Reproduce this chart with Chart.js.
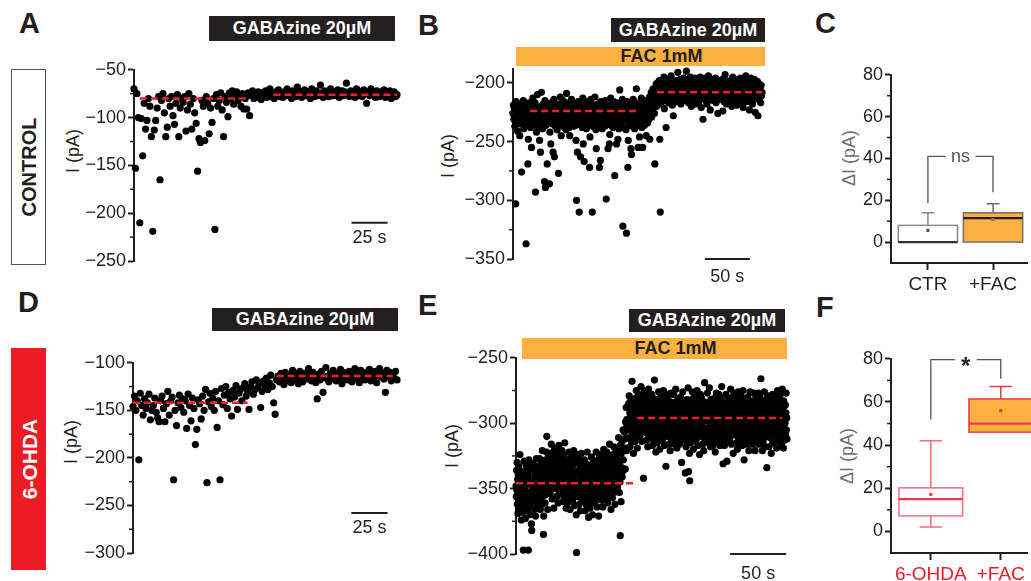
<!DOCTYPE html>
<html>
<head>
<meta charset="utf-8">
<script src="https://cdn.jsdelivr.net/npm/chart.js@4.4.1/dist/chart.umd.min.js"></script>
<style>
  body { margin: 0; width: 1031px; height: 581px; overflow: hidden; background: #fff; position: relative;
         font-family: "Liberation Sans", Arial, sans-serif; color: #231f20; }
  canvas { position: absolute; }
  .let { position: absolute; font-size: 29px; font-weight: bold; line-height: 29px; }
  .drug { position: absolute; background: #231f20; color: #fff; font-weight: bold; font-size: 18px; text-align: center; white-space: nowrap; }
  .fac { position: absolute; background: #fbb040; color: #231f20; font-weight: bold; font-size: 18px; text-align: center; white-space: nowrap; box-sizing: border-box; padding-left: 42px; }
  .grp { position: absolute; box-sizing: border-box; }
  .rot { position: absolute; transform: translate(-50%, -50%) rotate(-90deg); white-space: nowrap; line-height: 1; }
</style>
</head>
<body>

<div class="let" style="left:19px;top:9px">A</div>
<div class="let" style="left:418px;top:11px">B</div>
<div class="let" style="left:815px;top:9px">C</div>
<div class="let" style="left:18px;top:288px">D</div>
<div class="let" style="left:418px;top:291px">E</div>
<div class="let" style="left:816px;top:293px">F</div>

<div class="drug" style="left:209px;top:16px;width:186px;height:25px;line-height:25px">GABAzine 20µM</div>
<div class="drug" style="left:611px;top:18px;width:154px;height:24px;line-height:24px">GABAzine 20µM</div>
<div class="fac" style="left:516px;top:47px;width:249px;height:19px;line-height:19px">FAC 1mM</div>
<div class="drug" style="left:212px;top:308px;width:186px;height:23px;line-height:23px">GABAzine 20µM</div>
<div class="drug" style="left:629px;top:309px;width:156px;height:23px;line-height:23px">GABAzine 20µM</div>
<div class="fac" style="left:522px;top:338px;width:265px;height:21px;line-height:21px">FAC 1mM</div>

<div class="grp" style="left:11px;top:69px;width:35px;height:196px;border:1px solid #555">
  <div class="rot" style="left:50%;top:50%;font-size:20px;font-weight:bold">CONTROL</div>
</div>
<div class="grp" style="left:11px;top:348px;width:35px;height:222px;background:#ed1c24">
  <div class="rot" style="left:50%;top:50%;font-size:21px;font-weight:bold;color:#fff">6-OHDA</div>
</div>

<div class="rot" style="left:73px;top:151px;font-size:18px">I (pA)</div>
<div class="rot" style="left:448px;top:156px;font-size:18px">I (pA)</div>
<div class="rot" style="left:71px;top:442px;font-size:18px">I (pA)</div>
<div class="rot" style="left:452px;top:446px;font-size:18px">I (pA)</div>
<div class="rot" style="left:849px;top:158px;font-size:18px;color:#6d6e71">ΔI (pA)</div>
<div class="rot" style="left:847px;top:456px;font-size:18px;color:#6d6e71">ΔI (pA)</div>

<canvas id="chartA" width="333" height="234" style="left:74px;top:57px"></canvas>
<canvas id="chartB" width="319" height="233" style="left:453px;top:56px"></canvas>
<canvas id="chartC" width="185" height="237" style="left:846px;top:62px"></canvas>
<canvas id="chartD" width="334" height="233" style="left:73px;top:350px"></canvas>
<canvas id="chartE" width="341" height="239" style="left:456px;top:345px"></canvas>
<canvas id="chartF" width="185" height="243" style="left:846px;top:346px"></canvas>

<script>
// sampling interval (s) of each recording
const aStep = 1;
const bStep = 0.5;
const dStep = 1;
const eStep = 0.25;

// A: control, GABAzine only (pA)
const aValues = [
  -70, -153, -75, -100, -210, -101, -140, -85, -112, -103,
  -80, -88, -120, -219, -113, -103, -90, -78, -165, -82,
  -75, -95, -120, -110, -80, -88, -78, -98, -107, -85,
  -76, -120, -90, -80, -84, -78, -114, -92, -75, -86,
  -112, -80, -95, -106, -156, -122, -126, -82, -88, -124,
  -78, -85, -117, -90, -105, -80, -217, -76, -88, -82,
  -74, -92, -120, -78, -84, -99, -74, -80, -72, -86,
  -76, -73, -82, -78, -88, -75, -91, -80, -91, -74,
  -98, -77, -72, -80, -75, -79, -73, -76, -81, -74,
  -77, -72, -79, -75, -70, -78, -74, -80, -73, -76,
  -71, -78, -75, -79, -73, -76, -70, -77, -74, -80,
  -72, -75, -78, -68, -76, -73, -79, -74, -71, -77,
  -75, -73, -80, -70, -76, -78, -72, -74, -77, -66,
  -74, -79, -72, -76, -73, -78, -70, -75, -77, -73,
  -76, -71, -79, -74, -72, -77, -73, -64, -75, -78,
  -72, -76, -74, -79, -70, -75, -77, -73, -78, -71,
  -75, -85, -73, -77, -70, -76, -74, -79, -72, -75,
  -78, -73, -76, -71, -79, -74, -77, -72, -80, -75,
  -73, -78, -76
];
const aMeanX = [[4, 79], [96.5, 182]];
const aMeanY = [-80, -76];

// B: control, GABAzine + FAC (pA)
const bValues = [
  -226, -219, -231, -222, -237, -228, -303, -216, -233, -225, -241, -220, -229, -235, -223, -245, -218, -230, -224, -276,
  -221, -234, -227, -215, -239, -224, -230, -218, -232, -337, -226, -220, -236, -269, -248, -228, -217, -233, -223, -238,
  -225, -255, -219, -231, -213, -227, -236, -222, -229, -217, -293, -234, -242, -224, -210, -230, -221, -238, -226, -249,
  -228, -259, -220, -208, -233, -225, -239, -218, -230, -223, -284, -215, -289, -236, -226, -221, -269, -232, -219, -227,
  -224, -286, -242, -231, -252, -217, -228, -235, -221, -259, -230, -214, -263, -226, -237, -219, -232, -225, -240, -222,
  -229, -277, -218, -234, -224, -212, -231, -245, -220, -236, -226, -215, -233, -222, -238, -227, -219, -230, -240, -209,
  -225, -235, -217, -229, -222, -238, -245, -220, -232, -226, -214, -234, -223, -229, -218, -237, -225, -231, -221, -236,
  -249, -300, -224, -259, -230, -216, -235, -310, -221, -228, -263, -233, -219, -226, -238, -213, -252, -229, -267, -222,
  -234, -220, -227, -239, -216, -230, -224, -236, -218, -232, -272, -246, -225, -214, -231, -222, -310, -237, -226, -219,
  -229, -235, -212, -226, -240, -256, -221, -233, -218, -228, -236, -223, -272, -230, -266, -216, -234, -225, -239, -220,
  -227, -218, -233, -224, -237, -215, -230, -299, -222, -235, -226, -256, -219, -231, -252, -244, -228, -213, -236, -223,
  -231, -220, -238, -225, -216, -234, -279, -228, -222, -236, -252, -217, -230, -248, -224, -239, -219, -206, -233, -226,
  -221, -235, -227, -214, -322, -230, -238, -223, -218, -232, -226, -240, -328, -216, -229, -272, -249, -224, -236, -220,
  -233, -225, -256, -261, -219, -237, -228, -214, -231, -222, -239, -226, -217, -234, -205, -229, -223, -236, -255, -218,
  -230, -246, -221, -235, -226, -213, -238, -224, -255, -232, -219, -228, -236, -222, -215, -233, -245, -227, -220, -234,
  -224, -217, -231, -212, -248, -226, -219, -208, -229, -215, -222, -205, -218, -211, -226, -269, -207, -214, -201, -220,
  -209, -200, -214, -204, -218, -198, -248, -310, -206, -212, -202, -216, -207, -199, -211, -195, -222, -205, -213, -201,
  -238, -208, -215, -203, -210, -197, -217, -206, -201, -213, -208, -194, -211, -204, -219, -200, -228, -209, -203, -214,
  -205, -212, -198, -209, -216, -202, -191, -207, -214, -200, -210, -197, -205, -218, -203, -211, -199, -208, -213, -196,
  -209, -202, -215, -206, -198, -190, -212, -204, -210, -199, -217, -207, -201, -213, -195, -208, -220, -203, -211, -205,
  -199, -214, -206, -201, -210, -196, -218, -204, -209, -200, -213, -197, -207, -216, -202, -210, -195, -208, -221, -203,
  -211, -205, -231, -199, -212, -204, -208, -196, -215, -201, -209, -218, -203, -207, -194, -213, -200, -210, -223, -206,
  -202, -211, -197, -208, -215, -203, -209, -199, -213, -206, -196, -217, -204, -210, -201, -226, -207, -214, -198, -212,
  -205, -210, -200, -214, -207, -197, -224, -209, -202, -216, -206, -193, -211, -203, -218, -208, -199, -213, -205, -210,
  -201, -215, -206, -198, -212, -204, -220, -209, -195, -211, -203, -216, -207, -200, -213, -197, -209, -219, -204, -210,
  -208, -199, -214, -203, -210, -196, -217, -206, -201, -212, -205, -221, -198, -209, -214, -202, -207, -194, -211, -216,
  -204, -210, -199, -215, -207, -223, -202, -211, -196, -213, -206, -200, -218, -208, -203, -214, -197, -210, -225, -205,
  -212, -203, -209, -199, -228, -207, -214, -201, -210, -205, -217, -202, -211, -208
];
const bMeanX = [[19, 141], [160, 276.5]];
const bMeanY = [-224, -208];

// D: 6-OHDA, GABAzine only (pA)
const dValues = [
  -146, -135, -150, -140, -202, -132, -145, -155, -138, -148,
  -142, -133, -160, -150, -145, -137, -152, -158, -162, -140,
  -135, -148, -162, -143, -130, -155, -140, -136, -223, -150,
  -166, -142, -134, -147, -138, -152, -140, -169, -133, -145,
  -161, -137, -148, -186, -170, -139, -143, -159, -135, -150,
  -128, -226, -141, -132, -146, -137, -150, -130, -168, -140,
  -223, -127, -144, -134, -125, -148, -131, -138, -156, -129,
  -136, -124, -149, -132, -128, -140, -126, -122, -135, -130,
  -149, -125, -120, -133, -128, -118, -126, -122, -147, -130,
  -119, -124, -116, -128, -121, -113, -125, -142, -154, -118,
  -114, -120, -111, -117, -123, -110, -116, -119, -113, -121,
  -108, -115, -118, -112, -122, -109, -116, -120, -111, -114,
  -117, -106, -113, -119, -110, -115, -121, -138, -112, -118,
  -109, -131, -116, -105, -114, -120, -111, -117, -108, -113,
  -119, -112, -115, -107, -122, -110, -116, -113, -118, -109,
  -114, -120, -111, -106, -117, -113, -121, -108, -115, -112,
  -118, -110, -114, -107, -119, -112, -116, -109, -121, -113,
  -106, -115, -111, -117, -131, -108, -114, -110, -119, -112,
  -116, -109, -118
];
const dMeanX = [[0, 79], [99, 179]];
const dMeanY = [-142, -114];

// E: 6-OHDA, GABAzine + FAC (pA)
const eValues = [
  -348, -356, -336, -351, -330, -362, -343, -369, -339, -349, -333, -354, -365, -345, -324, -359, -341, -352, -337, -374,
  -354, -339, -362, -347, -368, -342, -397, -351, -358, -329, -364, -345, -340, -373, -348, -336, -356, -332, -360, -343,
  -342, -353, -366, -339, -397, -360, -328, -356, -335, -370, -346, -362, -344, -334, -354, -377, -382, -351, -331, -358,
  -360, -343, -331, -355, -349, -335, -366, -339, -353, -346, -371, -336, -357, -327, -362, -345, -340, -364, -348, -334,
  -345, -353, -333, -348, -327, -359, -340, -366, -336, -346, -330, -351, -362, -342, -321, -356, -338, -349, -385, -371,
  -347, -332, -355, -340, -361, -335, -328, -344, -351, -322, -310, -338, -333, -366, -341, -329, -349, -325, -353, -336,
  -330, -341, -354, -327, -337, -348, -316, -344, -323, -358, -334, -350, -332, -322, -342, -365, -328, -339, -319, -346,
  -350, -333, -321, -345, -339, -325, -356, -329, -343, -336, -361, -326, -347, -317, -352, -335, -330, -354, -338, -324,
  -339, -347, -327, -342, -321, -353, -334, -360, -330, -340, -324, -345, -356, -336, -315, -350, -332, -343, -328, -365,
  -347, -332, -355, -340, -361, -335, -328, -344, -351, -322, -357, -338, -333, -366, -341, -329, -349, -325, -353, -336,
  -335, -346, -359, -332, -342, -353, -321, -349, -328, -363, -339, -355, -337, -327, -347, -370, -399, -405, -324, -351,
  -356, -339, -327, -351, -345, -331, -362, -335, -349, -342, -367, -332, -353, -323, -358, -341, -336, -360, -344, -330,
  -346, -354, -334, -349, -328, -360, -341, -367, -337, -347, -331, -352, -363, -343, -322, -357, -339, -350, -335, -372,
  -351, -336, -359, -344, -365, -339, -332, -348, -355, -326, -361, -342, -337, -370, -345, -333, -353, -329, -357, -340,
  -336, -347, -360, -333, -343, -354, -322, -350, -329, -364, -340, -356, -338, -328, -348, -371, -334, -345, -325, -352,
  -353, -336, -324, -348, -342, -328, -359, -332, -346, -339, -364, -329, -350, -320, -355, -338, -333, -357, -341, -327,
  -340, -348, -328, -343, -322, -354, -335, -361, -331, -341, -325, -346, -357, -337, -316, -351, -333, -344, -329, -366,
  -343, -328, -351, -336, -357, -331, -324, -340, -347, -318, -353, -334, -329, -362, -337, -325, -345, -321, -349, -332,
  -325, -336, -349, -322, -332, -343, -311, -339, -318, -353, -329, -345, -386, -317, -337, -360, -323, -334, -314, -341,
  -337, -319, -305, -328, -321, -306, -335, -307, -320, -312, -335, -299, -319, -288, -321, -303, -297, -320, -302, -287,
  -297, -305, -285, -300, -279, -311, -292, -318, -288, -298, -282, -303, -314, -294, -268, -308, -290, -301, -286, -323,
  -300, -285, -308, -293, -314, -288, -281, -297, -304, -275, -310, -291, -286, -319, -294, -282, -302, -278, -306, -289,
  -286, -297, -310, -283, -293, -304, -272, -300, -279, -314, -290, -306, -288, -278, -298, -342, -284, -295, -275, -302,
  -307, -290, -278, -302, -296, -282, -313, -286, -300, -293, -318, -283, -304, -274, -309, -292, -287, -311, -295, -281,
  -296, -304, -284, -299, -278, -310, -291, -317, -287, -297, -281, -302, -313, -293, -267, -307, -289, -300, -285, -322,
  -301, -286, -309, -294, -315, -289, -282, -298, -305, -276, -311, -292, -287, -320, -295, -283, -303, -279, -307, -290,
  -289, -300, -313, -286, -296, -307, -275, -303, -282, -317, -293, -309, -291, -281, -301, -333, -287, -298, -278, -305,
  -310, -293, -281, -305, -299, -285, -316, -289, -303, -296, -321, -286, -307, -277, -312, -295, -290, -314, -298, -284,
  -291, -312, -295, -278, -306, -299, -286, -316, -293, -304, -274, -309, -289, -301, -319, -283, -298, -287, -313, -294,
  -299, -282, -306, -316, -289, -295, -309, -280, -302, -286, -297, -330, -284, -291, -304, -276, -313, -294, -287, -307,
  -297, -305, -285, -300, -338, -311, -292, -318, -288, -298, -282, -303, -314, -294, -273, -308, -337, -301, -286, -323,
  -344, -286, -309, -294, -315, -289, -282, -298, -305, -276, -311, -292, -287, -320, -295, -283, -303, -279, -307, -290,
  -289, -300, -313, -286, -296, -307, -275, -303, -282, -317, -293, -309, -291, -281, -301, -324, -287, -298, -278, -305,
  -310, -293, -281, -305, -299, -285, -316, -289, -303, -296, -321, -286, -307, -269, -312, -295, -290, -314, -298, -284,
  -290, -311, -294, -277, -305, -298, -285, -315, -292, -303, -273, -308, -288, -300, -318, -282, -297, -286, -312, -293,
  -300, -283, -307, -317, -290, -296, -310, -281, -303, -287, -298, -322, -285, -292, -305, -277, -314, -295, -288, -308,
  -296, -304, -284, -299, -278, -310, -291, -317, -287, -297, -281, -302, -313, -293, -272, -307, -289, -300, -285, -331,
  -303, -288, -311, -296, -317, -291, -284, -300, -307, -278, -313, -294, -289, -329, -297, -285, -305, -281, -309, -292,
  -288, -299, -312, -285, -295, -306, -274, -302, -281, -316, -292, -308, -290, -280, -300, -323, -286, -297, -277, -304,
  -309, -292, -280, -304, -298, -284, -315, -288, -302, -295, -320, -285, -306, -276, -311, -294, -289, -313, -297, -283,
  -292, -313, -296, -279, -307, -300, -287, -317, -294, -305, -275, -310, -290, -302, -328, -284, -299, -288, -314, -295,
  -299, -282, -306, -316, -289, -295, -309, -280, -302, -286, -297, -321, -284, -291, -304, -276, -313, -294, -287, -307,
  -302, -287, -310, -295, -316, -290, -283, -299, -306, -277, -312, -293, -288, -321, -296, -284, -304, -280, -308, -291,
  -295, -303, -283, -298, -277, -309, -290, -316, -286, -296, -280, -301, -312, -292, -266, -306, -288, -299, -284, -321,
  -290, -301, -314, -287, -297, -308, -276, -304, -283, -318, -294, -310, -292, -282, -302, -334, -288, -299, -279, -306,
  -301, -284, -308, -318, -291, -297, -311, -282, -304, -288, -299, -323, -286, -293, -306, -278, -315, -296, -289, -309,
  -308, -291, -279, -303, -297, -283, -314, -287, -301, -294, -319, -284, -305, -275, -310, -293, -288, -312, -296, -282,
  -291, -312, -295, -278, -306, -299, -286, -316, -293, -304, -274, -309, -289, -301, -319, -283, -298, -287, -313, -294,
  -300, -286, -309, -292, -277, -305, -296, -312
];
const eMeanX = [[0, 104.5], [108, 237.5]];
const eMeanY = [-346, -296];

// C: delta I, control
const cGroups = ['CTR', '+FAC'];
const cLow = [0, 0];
const cQ1 = [0, 0];
const cMedian = [0, 11.5];
const cQ3 = [8, 14];
const cHigh = [14, 18.3];
const cMean = [5.6, 10.8];
const cBracket = [18.6, 41, 23.8];

// F: delta I, 6-OHDA
const fGroups = ['6-OHDA', '+FAC'];
const fLow = [2, 46];
const fQ1 = [7.2, 46];
const fMedian = [15, 50];
const fQ3 = [20.2, 61.4];
const fHigh = [42, 67.2];
const fMean = [17.1, 56];
const fBracket = [51.9, 79.6, 70.8];

const FONT = '"Liberation Sans", Arial, sans-serif';
const INK = '#231f20';
const minus = v => (v < 0 ? '\u2212' + Math.abs(v) : String(v));

// short ticks half way between the labelled ones
const minorTicks = {
  id: 'minorTicks',
  afterDraw(chart) {
    const y = chart.scales.y, ctx = chart.ctx;
    ctx.save();
    ctx.strokeStyle = INK;
    ctx.lineWidth = 1.5;
    for (let i = 0; i < y.ticks.length - 1; i++) {
      const py = y.getPixelForValue((y.ticks[i].value + y.ticks[i + 1].value) / 2);
      ctx.beginPath();
      ctx.moveTo(y.right - 4, py);
      ctx.lineTo(y.right, py);
      ctx.stroke();
    }
    ctx.restore();
  }
};

function scaleBar(bar) {
  return {
    id: 'scaleBar',
    afterDraw(chart) {
      const {x, y} = chart.scales, ctx = chart.ctx;
      const x0 = x.getPixelForValue(bar.from), x1 = x.getPixelForValue(bar.from + bar.len);
      const py = y.getPixelForValue(bar.at);
      ctx.save();
      ctx.strokeStyle = INK;
      ctx.lineWidth = 2;
      ctx.beginPath();
      ctx.moveTo(x0, py);
      ctx.lineTo(x1, py);
      ctx.stroke();
      ctx.fillStyle = INK;
      ctx.font = '18px ' + FONT;
      ctx.textAlign = 'center';
      ctx.textBaseline = 'middle';
      ctx.fillText(bar.label, (x0 + x1) / 2, py + bar.dy);
      ctx.restore();
    }
  };
}

function tracePanel(id, values, step, meanX, meanY, yMin, yMax, bar) {
  const datasets = [{
    type: 'scatter',
    data: values.map((v, i) => ({x: i * step, y: v})),
    backgroundColor: '#000',
    pointRadius: 3.6,
    borderWidth: 0,
    clip: false,
    order: 1
  }];
  meanY.forEach((m, k) => {
    datasets.push({
      type: 'line',
      showLine: true,
      data: [{x: meanX[k][0], y: m}, {x: meanX[k][1], y: m}],
      borderColor: '#e8212b',
      borderWidth: 2.5,
      borderDash: [7, 4],
      pointRadius: 0,
      clip: false,
      order: 0
    });
  });
  return new Chart(document.getElementById(id), {
    type: 'scatter',
    data: {datasets},
    options: {
      responsive: false,
      animation: false,
      events: [],
      layout: {padding: {top: 12, bottom: 30, left: 0, right: 10}},
      plugins: {legend: {display: false}, tooltip: {enabled: false}},
      scales: {
        x: {type: 'linear', display: false, min: 0, max: (values.length - 1) * step},
        y: {
          min: yMin, max: yMax,
          afterFit: s => { s.width = 60; },
          afterBuildTicks: s => { s.ticks = s.ticks.filter(t => t.value % 50 === 0); },
          ticks: {stepSize: 50, includeBounds: false, autoSkip: false, color: INK, padding: 2,
                  font: {family: FONT, size: 18}, callback: minus},
          grid: {drawOnChartArea: false, tickLength: 6, tickWidth: 2, tickColor: INK},
          border: {display: true, color: INK, width: 2}
        }
      }
    },
    plugins: [minorTicks, scaleBar(bar)]
  });
}

function boxes(b) {
  return {
    id: 'boxes',
    beforeDatasetsDraw(chart) {
      const {ctx, scales: {x, y}} = chart;
      b.q1.forEach((q1, i) => {
        const st = b.styles[i];
        const xc = x.getPixelForValue(i);
        const xl = x.getPixelForValue(i - 0.455), xr = x.getPixelForValue(i + 0.455);
        const cw = x.getPixelForValue(i + b.cap) - xc;
        const yq1 = y.getPixelForValue(q1), yq3 = y.getPixelForValue(b.q3[i]);
        ctx.save();
        ctx.lineWidth = 1.5;
        ctx.strokeStyle = st.line;
        ctx.beginPath();
        if (b.high[i] > b.q3[i]) {
          const yh = y.getPixelForValue(b.high[i]);
          ctx.moveTo(xc, yq3); ctx.lineTo(xc, yh);
          ctx.moveTo(xc - cw, yh); ctx.lineTo(xc + cw, yh);
        }
        if (b.low[i] < q1) {
          const yl = y.getPixelForValue(b.low[i]);
          ctx.moveTo(xc, yq1); ctx.lineTo(xc, yl);
          ctx.moveTo(xc - cw, yl); ctx.lineTo(xc + cw, yl);
        }
        ctx.stroke();
        ctx.fillStyle = st.fill;
        ctx.fillRect(xl, yq3, xr - xl, yq1 - yq3);
        ctx.strokeRect(xl, yq3, xr - xl, yq1 - yq3);
        const ym = y.getPixelForValue(b.median[i]);
        ctx.lineWidth = 2.2;
        ctx.strokeStyle = st.median;
        ctx.beginPath();
        ctx.moveTo(xl, ym); ctx.lineTo(xr, ym);
        ctx.stroke();
        ctx.restore();
      });
    },
    afterDatasetsDraw(chart) {
      const {ctx, scales: {x, y}} = chart;
      const [yl, yt, yr] = b.bracket.map(v => y.getPixelForValue(v));
      const x0 = x.getPixelForValue(0), x1 = x.getPixelForValue(1);
      const xm = (x0 + x1) / 2;
      ctx.save();
      ctx.strokeStyle = '#555';
      ctx.lineWidth = 1.3;
      ctx.beginPath();
      ctx.moveTo(x0, yl); ctx.lineTo(x0, yt); ctx.lineTo(xm - b.gap, yt);
      ctx.moveTo(xm + b.gap, yt); ctx.lineTo(x1, yt); ctx.lineTo(x1, yr);
      ctx.stroke();
      ctx.fillStyle = b.markColor;
      ctx.font = b.markFont;
      ctx.textAlign = 'center';
      ctx.textBaseline = 'alphabetic';
      ctx.fillText(b.mark, xm, yt + b.markDy);
      ctx.restore();
    }
  };
}

function boxPanel(id, groups, stats, xMin, xMax, labelColor, meanColors) {
  return new Chart(document.getElementById(id), {
    type: 'scatter',
    data: {
      datasets: [{
        data: stats.mean.map((m, i) => ({x: i, y: m})),
        pointStyle: 'rect',
        pointRadius: 2.2,
        backgroundColor: meanColors,
        borderWidth: 0
      }]
    },
    options: {
      responsive: false,
      animation: false,
      events: [],
      layout: {padding: {top: 12, bottom: 2, left: 0, right: 0}},
      plugins: {legend: {display: false}, tooltip: {enabled: false}},
      scales: {
        x: {
          type: 'linear', min: xMin, max: xMax,
          afterFit: s => { s.height = 34; },
          afterBuildTicks: s => { s.ticks = groups.map((g, i) => ({value: i})); },
          ticks: {autoSkip: false, color: labelColor, padding: 3, maxRotation: 0, font: {family: FONT, size: 19},
                  callback: v => groups[v]},
          grid: {drawOnChartArea: false, tickLength: 7, tickWidth: 2, tickColor: INK},
          border: {display: true, color: INK, width: 2}
        },
        y: {
          min: -10, max: 80,
          afterFit: s => { s.width = 45; },
          afterBuildTicks: s => { s.ticks = s.ticks.filter(t => t.value % 20 === 0); },
          ticks: {stepSize: 20, includeBounds: false, autoSkip: false, color: INK, padding: 2, font: {family: FONT, size: 18}},
          grid: {drawOnChartArea: false, tickLength: 6, tickWidth: 2, tickColor: INK},
          border: {display: true, color: INK, width: 2}
        }
      }
    },
    plugins: [minorTicks, boxes(stats)]
  });
}

tracePanel('chartA', aValues, aStep, aMeanX, aMeanY, -250, -50, {from: 150.5, len: 25, at: -210, dy: 15, label: '25 s'});
tracePanel('chartB', bValues, bStep, bMeanX, bMeanY, -350, -188, {from: 213, len: 50, at: -350, dy: 18, label: '50 s'});
tracePanel('chartD', dValues, dStep, dMeanX, dMeanY, -300, -100, {from: 150.5, len: 25, at: -258, dy: 15, label: '25 s'});
tracePanel('chartE', eValues, eStep, eMeanX, eMeanY, -400, -250, {from: 191, len: 50, at: -400, dy: 20, label: '50 s'});

boxPanel('chartC', cGroups, {
  low: cLow, q1: cQ1, median: cMedian, q3: cQ3, high: cHigh, mean: cMean, bracket: cBracket,
  cap: 0.1, gap: 15, mark: 'ns', markColor: '#555', markFont: '18px ' + FONT, markDy: 6,
  styles: [{line: '#8a8a8a', fill: '#fff', median: '#333'}, {line: '#6d6e71', fill: '#fbb040', median: '#231f20'}]
}, -0.567, 1.522, INK, ['#555', '#777']);

boxPanel('chartF', fGroups, {
  low: fLow, q1: fQ1, median: fMedian, q3: fQ3, high: fHigh, mean: fMean, bracket: fBracket,
  cap: 0.16, gap: 11, mark: '*', markColor: INK, markFont: 'bold 24px ' + FONT, markDy: 14,
  styles: [{line: '#f26d7d', fill: '#fff', median: '#ee3b4a'}, {line: '#ee3b4a', fill: '#fbb040', median: '#ee3b4a'}]
}, -0.569, 1.375, '#ed1c24', ['#ee3b4a', '#ee3b4a']);
</script>
</body>
</html>
